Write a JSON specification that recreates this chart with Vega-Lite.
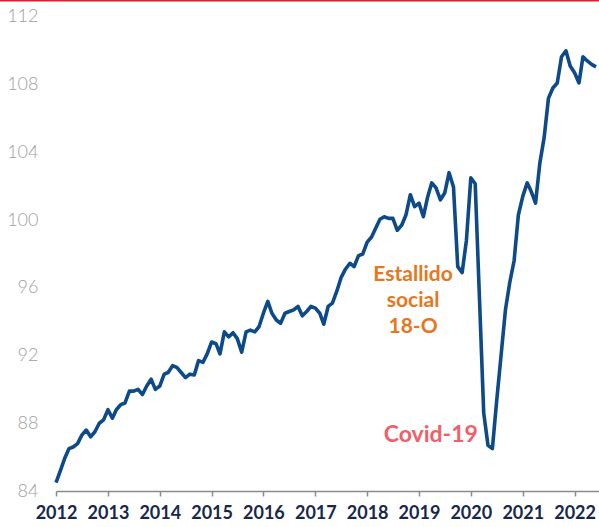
{
  "$schema": "https://vega.github.io/schema/vega-lite/v6.json",
  "width": 543,
  "height": 491,
  "autosize": {"type": "none"},
  "padding": {"left": 56, "top": 0, "right": 0, "bottom": 36},
  "config": {"view": {"stroke": null}, "font": "Lato"},
  "datasets": {
    "series": [
      {"date": "2012/01/01", "v": 84.5}, {"date": "2012/02/01", "v": 85.2}, {"date": "2012/03/01", "v": 85.9}, {"date": "2012/04/01", "v": 86.5}, {"date": "2012/05/01", "v": 86.6}, {"date": "2012/06/01", "v": 86.8}, {"date": "2012/07/01", "v": 87.3}, {"date": "2012/08/01", "v": 87.6}, {"date": "2012/09/01", "v": 87.2}, {"date": "2012/10/01", "v": 87.5}, {"date": "2012/11/01", "v": 88.0}, {"date": "2012/12/01", "v": 88.2},
      {"date": "2013/01/01", "v": 88.8}, {"date": "2013/02/01", "v": 88.3}, {"date": "2013/03/01", "v": 88.8}, {"date": "2013/04/01", "v": 89.1}, {"date": "2013/05/01", "v": 89.2}, {"date": "2013/06/01", "v": 89.9}, {"date": "2013/07/01", "v": 89.9}, {"date": "2013/08/01", "v": 90.0}, {"date": "2013/09/01", "v": 89.7}, {"date": "2013/10/01", "v": 90.2}, {"date": "2013/11/01", "v": 90.6}, {"date": "2013/12/01", "v": 90.0},
      {"date": "2014/01/01", "v": 90.2}, {"date": "2014/02/01", "v": 90.9}, {"date": "2014/03/01", "v": 91.0}, {"date": "2014/04/01", "v": 91.4}, {"date": "2014/05/01", "v": 91.3}, {"date": "2014/06/01", "v": 91.0}, {"date": "2014/07/01", "v": 90.7}, {"date": "2014/08/01", "v": 90.9}, {"date": "2014/09/01", "v": 90.85}, {"date": "2014/10/01", "v": 91.7}, {"date": "2014/11/01", "v": 91.6}, {"date": "2014/12/01", "v": 92.1},
      {"date": "2015/01/01", "v": 92.8}, {"date": "2015/02/01", "v": 92.7}, {"date": "2015/03/01", "v": 92.1}, {"date": "2015/04/01", "v": 93.4}, {"date": "2015/05/01", "v": 93.1}, {"date": "2015/06/01", "v": 93.35}, {"date": "2015/07/01", "v": 93.0}, {"date": "2015/08/01", "v": 92.2}, {"date": "2015/09/01", "v": 93.4}, {"date": "2015/10/01", "v": 93.5}, {"date": "2015/11/01", "v": 93.4}, {"date": "2015/12/01", "v": 93.7},
      {"date": "2016/01/01", "v": 94.5}, {"date": "2016/02/01", "v": 95.2}, {"date": "2016/03/01", "v": 94.5}, {"date": "2016/04/01", "v": 94.1}, {"date": "2016/05/01", "v": 93.9}, {"date": "2016/06/01", "v": 94.5}, {"date": "2016/07/01", "v": 94.6}, {"date": "2016/08/01", "v": 94.7}, {"date": "2016/09/01", "v": 94.9}, {"date": "2016/10/01", "v": 94.35}, {"date": "2016/11/01", "v": 94.6}, {"date": "2016/12/01", "v": 94.9},
      {"date": "2017/01/01", "v": 94.8}, {"date": "2017/02/01", "v": 94.5}, {"date": "2017/03/01", "v": 93.85}, {"date": "2017/04/01", "v": 94.9}, {"date": "2017/05/01", "v": 95.1}, {"date": "2017/06/01", "v": 95.8}, {"date": "2017/07/01", "v": 96.6}, {"date": "2017/08/01", "v": 97.1}, {"date": "2017/09/01", "v": 97.45}, {"date": "2017/10/01", "v": 97.25}, {"date": "2017/11/01", "v": 97.9}, {"date": "2017/12/01", "v": 98.0},
      {"date": "2018/01/01", "v": 98.7}, {"date": "2018/02/01", "v": 99.0}, {"date": "2018/03/01", "v": 99.5}, {"date": "2018/04/01", "v": 100.05}, {"date": "2018/05/01", "v": 100.2}, {"date": "2018/06/01", "v": 100.1}, {"date": "2018/07/01", "v": 100.1}, {"date": "2018/08/01", "v": 99.4}, {"date": "2018/09/01", "v": 99.7}, {"date": "2018/10/01", "v": 100.3}, {"date": "2018/11/01", "v": 101.5}, {"date": "2018/12/01", "v": 100.8},
      {"date": "2019/01/01", "v": 101.0}, {"date": "2019/02/01", "v": 100.2}, {"date": "2019/03/01", "v": 101.3}, {"date": "2019/04/01", "v": 102.2}, {"date": "2019/05/01", "v": 101.9}, {"date": "2019/06/01", "v": 101.2}, {"date": "2019/07/01", "v": 101.6}, {"date": "2019/08/01", "v": 102.8}, {"date": "2019/09/01", "v": 101.95}, {"date": "2019/10/01", "v": 97.25}, {"date": "2019/11/01", "v": 96.9}, {"date": "2019/12/01", "v": 98.8},
      {"date": "2020/01/01", "v": 102.5}, {"date": "2020/02/01", "v": 102.15}, {"date": "2020/03/01", "v": 95.6}, {"date": "2020/04/01", "v": 88.6}, {"date": "2020/05/01", "v": 86.7}, {"date": "2020/06/01", "v": 86.5}, {"date": "2020/07/01", "v": 89.3}, {"date": "2020/08/01", "v": 92.0}, {"date": "2020/09/01", "v": 94.7}, {"date": "2020/10/01", "v": 96.3}, {"date": "2020/11/01", "v": 97.6}, {"date": "2020/12/01", "v": 100.3},
      {"date": "2021/01/01", "v": 101.4}, {"date": "2021/02/01", "v": 102.2}, {"date": "2021/03/01", "v": 101.7}, {"date": "2021/04/01", "v": 101.0}, {"date": "2021/05/01", "v": 103.35}, {"date": "2021/06/01", "v": 104.9}, {"date": "2021/07/01", "v": 107.2}, {"date": "2021/08/01", "v": 107.8}, {"date": "2021/09/01", "v": 108.1}, {"date": "2021/10/01", "v": 109.65}, {"date": "2021/11/01", "v": 110.0}, {"date": "2021/12/01", "v": 109.1},
      {"date": "2022/01/01", "v": 108.7}, {"date": "2022/02/01", "v": 108.1}, {"date": "2022/03/01", "v": 109.65}, {"date": "2022/04/01", "v": 109.4}, {"date": "2022/05/01", "v": 109.2}, {"date": "2022/06/01", "v": 109.05}
    ]
  },
  "layer": [
    {
      "data": {"name": "series"},
      "mark": {"type": "line", "color": "#0d4a8a", "strokeWidth": 3.6, "strokeJoin": "round"},
      "encoding": {
        "x": {
          "field": "date", "type": "temporal",
          "scale": {"domain": [{"year": 2012, "month": 1, "date": 1}, {"year": 2022, "month": 6, "date": 22}]},
          "axis": {
            "title": null, "format": "%Y", "tickCount": {"interval": "year", "step": 1},
            "grid": false, "domainColor": "#8a8a8a", "domainWidth": 1.5, "tickColor": "#8a8a8a", "tickWidth": 1.5, "tickSize": 5,
            "labelFont": "Lato", "labelFontWeight": "bold", "labelFontSize": 18, "labelColor": "#17284a", "labelPadding": 8, "labelFlush": false
          }
        },
        "y": {
          "field": "v", "type": "quantitative",
          "scale": {"domain": [84, 113], "nice": false, "zero": false},
          "axis": {
            "title": null, "values": [84, 88, 92, 96, 100, 104, 108, 112],
            "grid": false, "domain": false, "ticks": false,
            "labelFont": "Lato", "labelFontWeight": 300, "labelFontSize": 18, "labelColor": "#a0a0a0", "labelPadding": 18
          }
        }
      }
    },
    {
      "data": {"values": [{"level": 113}]},
      "mark": {"type": "rule", "color": "#e8192c", "strokeWidth": 3},
      "encoding": {
        "y": {"field": "level", "type": "quantitative"},
        "x": {"datum": {"year": 2010, "month": 11, "date": 28}, "type": "temporal"},
        "x2": {"datum": {"year": 2022, "month": 7, "date": 15}}
      }
    },
    {
      "data": {"values": [{"label": "Estallido\nsocial\n18-O", "date": "2018/11/20", "v": 96.75}]},
      "mark": {"type": "text", "color": "#e8761b", "fontWeight": "bold", "fontSize": 21, "font": "Lato", "lineBreak": "\n", "lineHeight": 26, "align": "center", "baseline": "middle"},
      "encoding": {
        "text": {"field": "label"},
        "x": {"field": "date", "type": "temporal"},
        "y": {"field": "v", "type": "quantitative"}
      }
    },
    {
      "data": {"values": [{"label": "Covid-19", "date": "2019/03/25", "v": 87.3}]},
      "mark": {"type": "text", "color": "#f0606a", "fontWeight": "bold", "fontSize": 23, "font": "Lato", "align": "center", "baseline": "middle"},
      "encoding": {
        "text": {"field": "label"},
        "x": {"field": "date", "type": "temporal"},
        "y": {"field": "v", "type": "quantitative"}
      }
    }
  ]
}
